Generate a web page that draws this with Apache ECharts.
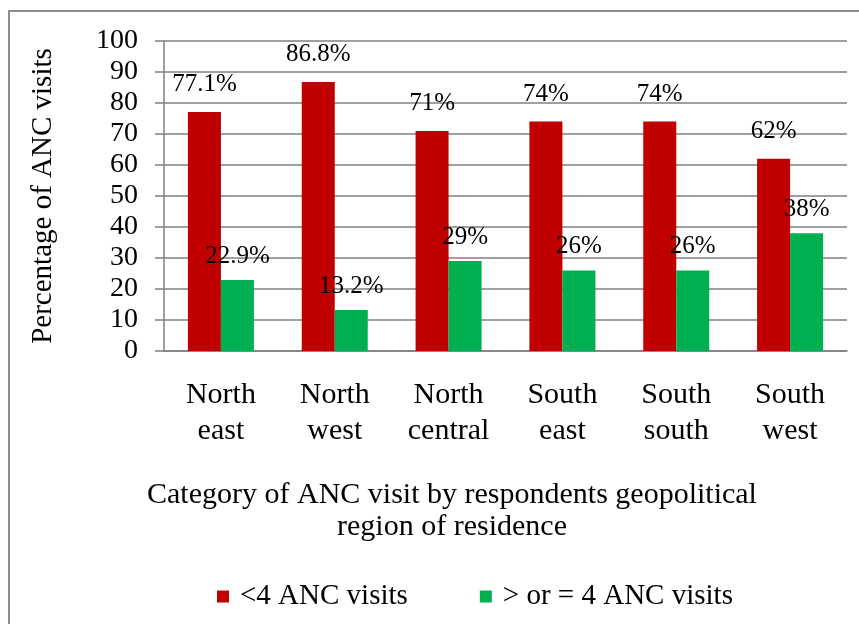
<!DOCTYPE html>
<html>
<head>
<meta charset="utf-8">
<script src="https://cdn.jsdelivr.net/npm/echarts@6/dist/echarts.min.js"></script>
<style>
  html, body { margin: 0; padding: 0; background: #fff; }
  #chart { width: 859px; height: 624px; }
</style>
</head>
<body>
<div id="chart"></div>
<script>
var regions = ['North\neast', 'North\nwest', 'North\ncentral', 'South\neast', 'South\nsouth', 'South\nwest']
var lessThan4 = [77.1, 86.8, 71, 74, 74, 62]
var atLeast4 = [22.9, 13.2, 29, 26, 26, 38]
var yTicks = { min: 0, max: 100, interval: 10 }

var font = '"Liberation Serif", "Times New Roman", serif'

var chart = echarts.init(document.getElementById('chart'))
chart.setOption({
  animation: false,
  title: {
    text: 'Category of ANC visit by respondents geopolitical\nregion of residence',
    left: 447,
    top: 474,
    textAlign: 'center',
    textStyle: { fontFamily: font, fontSize: 30, fontWeight: 'normal', color: '#000', lineHeight: 32 }
  },
  graphic: [{
    type: 'rect',
    shape: { x: 9, y: 11, width: 880, height: 640 },
    style: { fill: 'none', stroke: '#8c8c8c', lineWidth: 2 },
    silent: true
  }],
  legend: {
    top: 577,
    left: 212,
    itemWidth: 12,
    itemHeight: 12,
    itemGap: 72,
    icon: 'rect',
    textStyle: { fontFamily: font, fontSize: 29, color: '#000', padding: [0, 0, 0, 6] },
    data: ['<4 ANC visits', '> or = 4 ANC visits']
  },
  grid: { left: 164, right: 12, top: 41, bottom: 273 },
  xAxis: {
    type: 'category',
    data: regions,
    axisTick: { show: false },
    axisLine: { lineStyle: { color: '#808080', width: 1.5 } },
    axisLabel: { fontFamily: font, fontSize: 30, color: '#000', lineHeight: 36, margin: 26 }
  },
  yAxis: {
    type: 'value',
    min: yTicks.min,
    max: yTicks.max,
    interval: yTicks.interval,
    name: 'Percentage of ANC visits',
    nameLocation: 'middle',
    nameGap: 106,
    nameTextStyle: { fontFamily: font, fontSize: 29, color: '#000' },
    axisLine: { show: true, lineStyle: { color: '#808080', width: 1.5 } },
    axisTick: { show: true, length: 9, lineStyle: { color: '#808080', width: 1.5 } },
    splitLine: { lineStyle: { color: '#808080', width: 1.5 } },
    axisLabel: { fontFamily: font, fontSize: 28, color: '#000', margin: 26 }
  },
  series: [
    {
      name: '<4 ANC visits',
      type: 'bar',
      data: lessThan4,
      barWidth: 33,
      barGap: '0%',
      itemStyle: { color: '#C00000' },
      label: {
        show: true, position: 'top', distance: 15,
        formatter: '{c}%',
        fontFamily: font, fontSize: 25, color: '#000'
      }
    },
    {
      name: '> or = 4 ANC visits',
      type: 'bar',
      data: atLeast4,
      barWidth: 33,
      itemStyle: { color: '#00B050' },
      label: {
        show: true, position: 'top', distance: 11,
        formatter: '{c}%',
        fontFamily: font, fontSize: 25, color: '#000'
      }
    }
  ]
})
</script>
</body>
</html>
